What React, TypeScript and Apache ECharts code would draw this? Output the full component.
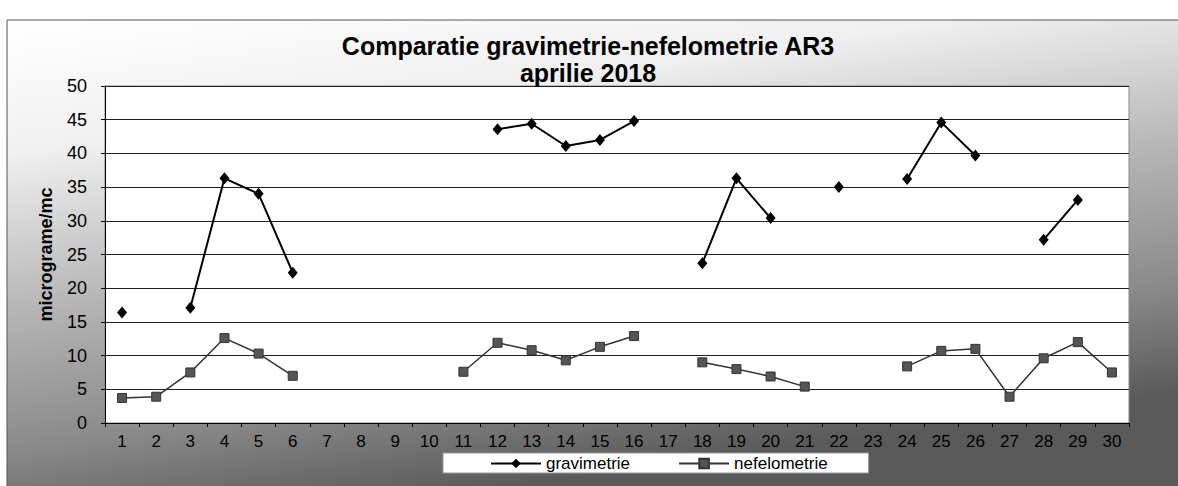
import React, { useEffect, useRef } from "react";
import * as echarts from "echarts";

const days = ["1","2","3","4","5","6","7","8","9","10","11","12","13","14","15","16","17","18","19","20","21","22","23","24","25","26","27","28","29","30"];
const gravimetrie: (number | null)[] = [16.4, null, 17.1, 36.3, 34.0, 22.3, null, null, null, null, null, 43.6, 44.4, 41.1, 42.0, 44.8, null, 23.7, 36.3, 30.4, null, 35.0, null, 36.2, 44.6, 39.7, null, 27.2, 33.1, null];
const nefelometrie: (number | null)[] = [3.7, 3.9, 7.5, 12.6, 10.3, 7.0, null, null, null, null, 7.6, 11.9, 10.8, 9.3, 11.3, 12.9, null, 9.0, 8.0, 6.9, 5.4, null, null, 8.4, 10.7, 11.0, 3.9, 9.6, 12.0, 7.5];
const seriesNames = ["gravimetrie", "nefelometrie"];
const titleText = "Comparatie gravimetrie-nefelometrie AR3\naprilie 2018";
const yAxisName = "micrograme/mc";

export default function App() {
  const ref = useRef<HTMLDivElement>(null);
  useEffect(() => {
    if (!ref.current) return;
    const chart = echarts.init(ref.current, undefined, { renderer: "svg" });
    const font = "Liberation Sans, Arial, sans-serif";
    chart.setOption({
      animation: false,
      textStyle: { fontFamily: font },
      graphic: [
        {
          type: "rect",
          z: -10,
          shape: { x: 7, y: 20, width: 1180, height: 480 },
          style: {
            fill: new echarts.graphic.LinearGradient(0, 0, 0.35, 1, [
              { offset: 0, color: "#ffffff" },
              { offset: 0.25, color: "#f0f0f0" },
              { offset: 0.55, color: "#b4b4b4" },
              { offset: 0.8, color: "#8a8a8a" },
              { offset: 1, color: "#5a5a5a" },
            ]),
            stroke: "#555",
            lineWidth: 1,
          },
        },
      ],
      title: {
        text: titleText,
        left: 583,
        top: 27,
        textAlign: "center",
        textStyle: { fontFamily: font, fontSize: 25, fontWeight: "bold", color: "#000", lineHeight: 27 },
      },
      grid: {
        left: 105,
        right: 49,
        top: 86,
        bottom: 63,
        show: true,
        backgroundColor: "#fff",
        borderColor: "#888",
        borderWidth: 1,
      },
      legend: {
        data: seriesNames,
        left: 443,
        top: 453,
        padding: [2, 41, 1, 47],
        itemGap: 48,
        itemWidth: 50,
        itemHeight: 12,
        backgroundColor: "#fff",
        borderColor: "#999",
        borderWidth: 1,
        textStyle: { fontFamily: font, fontSize: 17, color: "#000" },
      },
      xAxis: {
        type: "category",
        data: days,
        boundaryGap: true,
        axisLine: { lineStyle: { color: "#000", width: 1 } },
        axisTick: { show: true, length: 4, lineStyle: { color: "#000" } },
        axisLabel: {
          fontFamily: font,
          fontSize: 17,
          color: "#000",
          margin: 10,
          interval: 0,
          textShadowColor: "#777",
          textShadowOffsetX: 1,
          textShadowOffsetY: 1,
          textShadowBlur: 0,
        },
        splitLine: { show: false },
      },
      yAxis: {
        type: "value",
        min: 0,
        max: 50,
        interval: 5,
        name: yAxisName,
        nameLocation: "middle",
        nameGap: 50,
        nameTextStyle: { fontFamily: font, fontSize: 18, fontWeight: "bold", color: "#000" },
        axisLine: { show: true, lineStyle: { color: "#000", width: 1 } },
        axisTick: { show: true, length: 4, lineStyle: { color: "#000" } },
        axisLabel: { fontFamily: font, fontSize: 18, color: "#000", margin: 18 },
        splitLine: { show: true, lineStyle: { color: "#222", width: 1 } },
      },
      series: [
        {
          name: seriesNames[0],
          type: "line",
          data: gravimetrie,
          connectNulls: false,
          symbol: "diamond",
          symbolSize: [10, 12],
          showAllSymbol: true,
          lineStyle: { color: "#000", width: 2 },
          itemStyle: { color: "#000" },
          z: 3,
        },
        {
          name: seriesNames[1],
          type: "line",
          data: nefelometrie,
          connectNulls: false,
          symbol: "rect",
          symbolSize: 9,
          showAllSymbol: true,
          lineStyle: { color: "#333", width: 1.5 },
          itemStyle: { color: "#555", borderColor: "#333", borderWidth: 1 },
          z: 2,
        },
      ],
    });
    return () => chart.dispose();
  }, []);
  return (
    <div
      ref={ref}
      style={{ position: "fixed", left: 0, top: 0, width: 1178, height: 486, background: "#fff" }}
    />
  );
}
